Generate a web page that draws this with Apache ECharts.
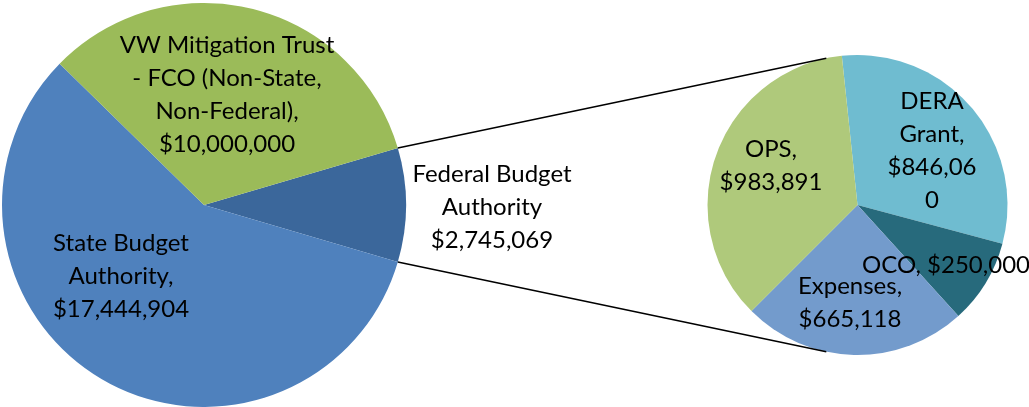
<!DOCTYPE html>
<html>
<head>
<meta charset="utf-8">
<script src="https://cdn.jsdelivr.net/npm/echarts@6/dist/echarts.min.js"></script>
<style>
html,body{margin:0;padding:0;background:#fff;}
#c{width:1029px;height:407px;}
</style>
</head>
<body>
<div id="c"></div>
<script>
// ---- data ----
var mainNames = ['Federal Budget Authority', 'State Budget Authority', 'VW Mitigation Trust - FCO (Non-State, Non-Federal)'];
var mainValues = [2745069, 17444904, 10000000];
var mainLabels = ['Federal Budget\nAuthority\n$2,745,069', 'State Budget\nAuthority,\n$17,444,904', 'VW Mitigation Trust\n- FCO (Non-State,\nNon-Federal),\n$10,000,000'];

var subNames = ['DERA Grant', 'OCO', 'Expenses', 'OPS'];
var subValues = [846060, 250000, 665118, 983891];
var subLabels = ['DERA\nGrant,\n$846,06\n0', 'OCO, $250,000', 'Expenses,\n$665,118', 'OPS,\n$983,891'];

// ---- style ----
var mainColors = ['#3B679B', '#4F81BD', '#9BBB59'];
var subColors = ['#6FBCD0', '#276A7C', '#739BCC', '#AFC97B'];
var C1 = [204, 205], R1 = 202;
var C2 = [857.5, 205], R2 = 150;
var mainLabelOff = [[288, 2], [-83, 71], [23, -110]];
var subLabelOff = [[74.5, -54], [88.5, 60], [-7.5, 98], [-86.5, -39]];
var FONT = 'Lato';

var total = mainValues.reduce(function (a, b) { return a + b; }, 0);
var halfAng = mainValues[0] / total * 180;
var subStart = 96;
var connAng = 102;

function mk(names, values, labels, colors) {
  return names.map(function (n, i) {
    return { name: n, value: values[i], itemStyle: { color: colors[i] }, label: { formatter: labels[i] } };
  });
}
function rad(d) { return d * Math.PI / 180; }
var p1t = [C1[0] + R1 * Math.cos(rad(halfAng)), C1[1] - R1 * Math.sin(rad(halfAng))];
var p1b = [C1[0] + R1 * Math.cos(rad(halfAng)), C1[1] + R1 * Math.sin(rad(halfAng))];
var p2t = [C2[0] + R2 * Math.cos(rad(connAng)), C2[1] - R2 * Math.sin(rad(connAng))];
var p2b = [C2[0] + R2 * Math.cos(rad(connAng)), C2[1] + R2 * Math.sin(rad(connAng))];

var labelStyle = { show: true, position: 'inside', color: '#000', fontFamily: FONT, fontSize: 24, lineHeight: 33, align: 'center' };

var chart = echarts.init(document.getElementById('c'));
chart.setOption({
  animation: false,
  backgroundColor: '#fff',
  series: [
    {
      type: 'pie', center: C1, radius: [0, R1], startAngle: halfAng, clockwise: true,
      label: labelStyle, labelLine: { show: false }, emphasis: { disabled: true },
      itemStyle: { borderWidth: 0 },
      data: mk(mainNames, mainValues, mainLabels, mainColors),
      labelLayout: function (p) {
        var o = mainLabelOff[p.dataIndex];
        return { x: C1[0] + o[0], y: C1[1] + o[1], align: 'center', verticalAlign: 'middle' };
      }
    },
    {
      type: 'pie', center: C2, radius: [0, R2], startAngle: subStart, clockwise: true,
      label: labelStyle, labelLine: { show: false }, emphasis: { disabled: true },
      itemStyle: { borderWidth: 0 },
      data: mk(subNames, subValues, subLabels, subColors),
      labelLayout: function (p) {
        var o = subLabelOff[p.dataIndex];
        return { x: C2[0] + o[0], y: C2[1] + o[1], align: 'center', verticalAlign: 'middle' };
      }
    }
  ],
  graphic: [
    { type: 'line', shape: { x1: p1t[0], y1: p1t[1], x2: p2t[0], y2: p2t[1] }, style: { stroke: '#000', lineWidth: 1.5 }, z: 10 },
    { type: 'line', shape: { x1: p1b[0], y1: p1b[1], x2: p2b[0], y2: p2b[1] }, style: { stroke: '#000', lineWidth: 1.5 }, z: 10 }
  ]
});
</script>
</body>
</html>
